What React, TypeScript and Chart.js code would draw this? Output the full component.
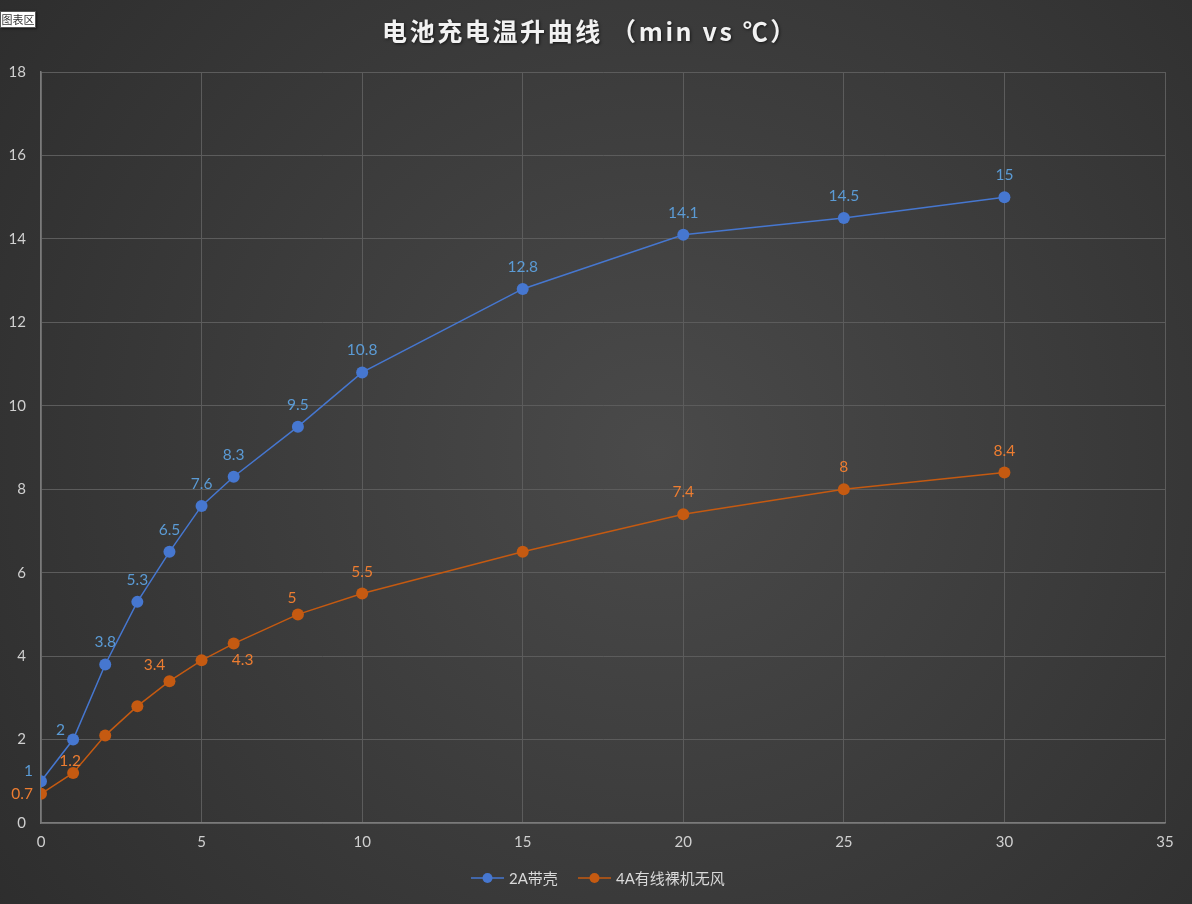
import { useEffect, useRef } from "react";
import { Chart, registerables } from "chart.js";

Chart.register(...registerables);

// ---- data ----
const minutes = [0, 1, 2, 3, 4, 5, 6, 8, 10, 15, 20, 25, 30];
const temp2A = [1, 2, 3.8, 5.3, 6.5, 7.6, 8.3, 9.5, 10.8, 12.8, 14.1, 14.5, 15];
const temp4A = [0.7, 1.2, 2.1, 2.8, 3.4, 3.9, 4.3, 5, 5.5, 6.5, 7.4, 8, 8.4];
const seriesNames = ["2A带壳", "4A有线裸机无风"];
const titleText = "电池充电温升曲线 （min vs ℃）";
const xMax = 35;
const xStep = 5;
const yMax = 18;
const yStep = 2;

// label placement per point ("" = no label)
const labelPlace2A = ["left", "left", "above", "above", "above", "above", "above", "above", "above", "above", "above", "above", "above"];
const labelPlace4A = ["left", "aboveNear", "", "", "aboveLeft", "", "below", "aboveLeft", "above", "", "above", "above", "above"];

const BLUE = "#4677d0";
const BLUE_LABEL = "#5b9bd5";
const ORANGE = "#c55a11";
const ORANGE_LABEL = "#ed7d31";
const FONT = "Lato, 'Noto Sans CJK SC', sans-serif";

const bgPlugin = {
  id: "bg",
  beforeDraw(chart: any) {
    const { ctx, width, height } = chart;
    ctx.save();
    const g = ctx.createRadialGradient(width * 0.55, height * 0.5, 0, width * 0.55, height * 0.5, Math.hypot(width, height) * 0.6);
    g.addColorStop(0, "#4a4a4a");
    g.addColorStop(1, "#2a2a2a");
    ctx.fillStyle = g;
    ctx.fillRect(0, 0, width, height);
    ctx.restore();
  },
};

const overlayPlugin = {
  id: "overlay",
  afterDatasetsDraw(chart: any) {
    const { ctx } = chart;
    ctx.save();
    // data labels
    const places = [labelPlace2A, labelPlace4A];
    const colors = [BLUE_LABEL, ORANGE_LABEL];
    chart.data.datasets.forEach((ds: any, di: number) => {
      const meta = chart.getDatasetMeta(di);
      ctx.font = `15.5px ${FONT}`;
      ctx.fillStyle = colors[di];
      meta.data.forEach((pt: any, i: number) => {
        const p = places[di][i];
        if (!p) return;
        const v = ds.data[i].y;
        const t = String(v);
        let x = pt.x;
        let y = pt.y;
        ctx.textBaseline = "middle";
        if (p === "above") {
          ctx.textAlign = "center";
          y -= 22;
        } else if (p === "aboveNear") {
          ctx.textAlign = "center";
          x -= 3;
          y -= 12;
        } else if (p === "left") {
          ctx.textAlign = "right";
          x -= 8;
          y -= di === 0 ? 10 : 0;
        } else if (p === "below") {
          ctx.textAlign = "center";
          x += 9;
          y += 16;
        } else if (p === "aboveLeft") {
          ctx.textAlign = "center";
          x -= i === 7 ? 6 : 15;
          y -= 16;
        }
        ctx.fillText(t, x, y);
      });
    });

    // title
    ctx.font = `bold 25px 'Noto Sans CJK SC', ${FONT}`;
    (ctx as any).letterSpacing = "2.6px";
    ctx.textAlign = "center";
    ctx.textBaseline = "middle";
    ctx.shadowColor = "rgba(0,0,0,0.6)";
    ctx.shadowBlur = 3;
    ctx.shadowOffsetX = 1;
    ctx.shadowOffsetY = 1;
    ctx.fillStyle = "#f2f2f2";
    ctx.fillText(titleText, 590, 31);
    ctx.shadowColor = "transparent";
    (ctx as any).letterSpacing = "0px";

    // legend
    const ly = 878;
    const items = [
      { x: 471, color: BLUE, text: seriesNames[0] },
      { x: 578, color: ORANGE, text: seriesNames[1] },
    ];
    ctx.font = `15px ${FONT}`;
    ctx.textAlign = "left";
    items.forEach((it) => {
      ctx.strokeStyle = it.color;
      ctx.lineWidth = 1.5;
      ctx.beginPath();
      ctx.moveTo(it.x, ly);
      ctx.lineTo(it.x + 33, ly);
      ctx.stroke();
      ctx.fillStyle = it.color;
      ctx.beginPath();
      ctx.arc(it.x + 16.5, ly, 5, 0, Math.PI * 2);
      ctx.fill();
      ctx.fillStyle = "#d9d9d9";
      ctx.fillText(it.text, it.x + 38, ly + 1);
    });
    ctx.restore();
  },
};

export default function App() {
  const ref = useRef<HTMLCanvasElement>(null);
  useEffect(() => {
    if (!ref.current) return;
    const toXY = (ys: number[]) => ys.map((y, i) => ({ x: minutes[i], y }));
    const chart = new Chart(ref.current, {
      type: "scatter",
      data: {
        datasets: [
          {
            label: seriesNames[0],
            data: toXY(temp2A),
            showLine: true,
            borderColor: BLUE,
            backgroundColor: BLUE,
            borderWidth: 1.5,
            pointRadius: 6,
            pointBorderWidth: 0,
            pointBackgroundColor: BLUE,
          },
          {
            label: seriesNames[1],
            data: toXY(temp4A),
            showLine: true,
            borderColor: ORANGE,
            backgroundColor: ORANGE,
            borderWidth: 1.5,
            pointRadius: 6,
            pointBorderWidth: 0,
            pointBackgroundColor: ORANGE,
          },
        ],
      },
      options: {
        responsive: false,
        animation: false,
        devicePixelRatio: 1,
        layout: { padding: { left: 0, right: 27, top: 72, bottom: 0 } },
        plugins: {
          legend: { display: false },
          title: { display: false },
          tooltip: { enabled: false },
        },
        scales: {
          x: {
            type: "linear",
            min: 0,
            max: xMax,
            ticks: { stepSize: xStep, color: "#d0d0d0", font: { family: FONT, size: 15 }, padding: 10 },
            grid: { color: "#5c5c5c", lineWidth: 1, drawTicks: false },
            border: { color: "#7a7a7a", width: 1.5 },
            afterFit(scale: any) {
              scale.height = 81;
            },
          },
          y: {
            type: "linear",
            min: 0,
            max: yMax,
            ticks: { stepSize: yStep, color: "#d0d0d0", font: { family: FONT, size: 15 }, padding: 15 },
            grid: { color: "#5c5c5c", lineWidth: 1, drawTicks: false },
            border: { color: "#7a7a7a", width: 1.5 },
            afterFit(scale: any) {
              scale.width = 41;
            },
          },
        },
      },
      plugins: [bgPlugin, overlayPlugin],
    });
    return () => chart.destroy();
  }, []);

  return (
    <div style={{ position: "fixed", left: 0, top: 0, width: 1192, height: 904 }}>
      <canvas ref={ref} width={1192} height={904} style={{ display: "block" }} />
      <div
        style={{
          position: "absolute",
          left: 0,
          top: 11,
          width: 36,
          height: 17,
          background: "#ffffff",
          border: "1px solid #555",
          boxShadow: "1px 1px 2px rgba(0,0,0,0.5)",
          font: "11px 'Noto Sans CJK SC', sans-serif",
          color: "#333",
          lineHeight: "15px",
          textAlign: "center",
          boxSizing: "border-box",
        }}
      >
        图表区
      </div>
    </div>
  );
}
